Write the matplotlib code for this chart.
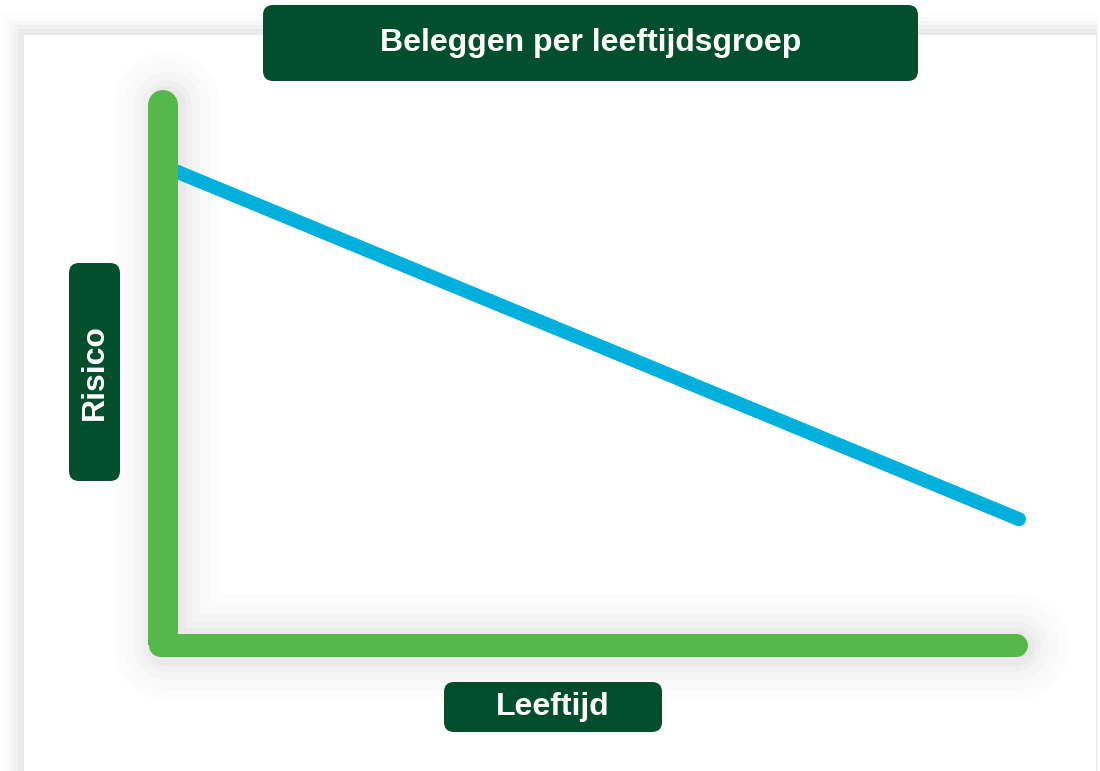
import matplotlib
matplotlib.use("Agg")
import matplotlib.pyplot as plt
from matplotlib.patches import FancyBboxPatch, Rectangle

# data: risk goes down as age goes up
leeftijd = [0, 100]
risico = [86.3, 22.6]

title = "Beleggen per leeftijdsgroep"
xlabel = "Leeftijd"
ylabel = "Risico"

DARK = "#034f2d"
GREEN = "#56b84a"
BLUE = "#00b0dc"

W, H = 1100, 771
fig = plt.figure(figsize=(W / 100, H / 100), dpi=100)
fig.patch.set_facecolor("white")
plt.rcParams["font.family"] = ["Liberation Sans", "DejaVu Sans"]


def fx(px):
    return px / W


def fy(py):
    return 1 - py / H


# card background with soft shadow
bg = fig.add_axes([0, 0, 1, 1])
bg.set_xlim(0, W)
bg.set_ylim(H, 0)
bg.axis("off")
for i, a in enumerate([0.008, 0.011, 0.014, 0.018, 0.022]):
    d = 20 - i * 4
    bg.add_patch(Rectangle((22 - d, 33 - d), 1075 + 2 * d, 760, color="black", alpha=a, lw=0))
bg.add_patch(Rectangle((1097, 0), 3, H, color="white", lw=0))
bg.add_patch(Rectangle((22, 33), 1075, 760, color="#e8e8e8", lw=0))
bg.add_patch(Rectangle((24, 35), 1072, 760, color="white", lw=0))

# main plot area: x from vertical axis center to end of horizontal axis
left, right, top, bottom = 163, 1027, 105, 644.5
ax = fig.add_axes([fx(left), fy(bottom), fx(right - left), (bottom - top) / H])
ax.set_xlim(0, 100 * (right - left) / (1019 - left))
ax.set_ylim(0, 100 * (bottom - top) / (bottom - 90))
ax.axis("off")

pt = 72 / 100  # px -> points
T = ax.transAxes
xend = (1015.5 - left) / (right - left)
xstart = (159.5 - left) / (right - left)

# soft shadow under the green axes (one L-shaped path per layer, no double overlap)
for d, a in [(80, 0.010), (60, 0.012), (40, 0.015), (24, 0.018), (12, 0.022)]:
    ax.plot([0.005, 0.005, xend], [1, -0.005, -0.005], transform=T, color="black", alpha=a,
            lw=(26 + d) * pt, solid_capstyle="round", solid_joinstyle="round",
            clip_on=False, zorder=1)

# the risk line
ax.plot(leeftijd, risico, color=BLUE, lw=14 * pt, solid_capstyle="round", clip_on=False, zorder=3)

# green axes
ax.plot([0, 0], [1, 0.5], transform=T, color=GREEN, lw=30 * pt, solid_capstyle="round",
        clip_on=False, zorder=4)
ax.plot([0, 0], [0.5, 0], transform=T, color=GREEN, lw=30 * pt, solid_capstyle="butt",
        clip_on=False, zorder=4)
ax.plot([xstart, xend], [0, 0], transform=T, color=GREEN, lw=23 * pt, solid_capstyle="round",
        clip_on=False, zorder=4)


def label_box(x0, y0, x1, y1, text, rotation=0):
    r = 10
    bg.add_patch(FancyBboxPatch((x0 + r, y0 + r), x1 - x0 - 2 * r, y1 - y0 - 2 * r,
                                boxstyle=f"round,pad={r},rounding_size={r}",
                                fc=DARK, ec="none", zorder=5))
    bg.text((x0 + x1) / 2, (y0 + y1) / 2, text, color="white", fontsize=23,
            fontweight="bold", ha="center", va="center", rotation=rotation, zorder=6)


label_box(263, 5, 918, 81, title)
label_box(69, 263, 120, 481, ylabel, rotation=90)
label_box(444, 682, 662, 732, xlabel)

fig.savefig("out.png", dpi=100)
